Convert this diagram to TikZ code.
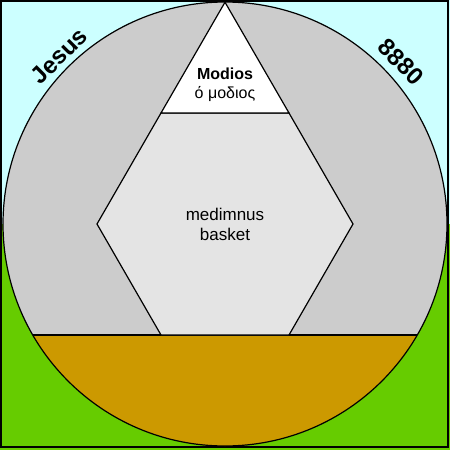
\documentclass[tikz,border=0pt]{standalone}
\usepackage{fontspec}
\setmainfont{Liberation Sans}
\definecolor{sky}{HTML}{CCFFFF}
\definecolor{grass}{HTML}{66CC00}
\definecolor{disk}{HTML}{CCCCCC}
\definecolor{soil}{HTML}{CC9900}
\definecolor{grain}{HTML}{E4E4E4}

\begin{document}
\begin{tikzpicture}[x=1pt,y=-1pt,line width=1.2pt,
    edge/.style={draw=black,line join=miter},
    rimtext/.style={font=\bfseries\fontsize{24}{26}\selectfont,inner sep=1pt}]
            \useasboundingbox (0,0) rectangle (450,450);
            \fill[sky] (0,0) rectangle (450,224);
            \fill[grass] (0,224) rectangle (450,450);
            \draw[line width=1.5pt] (1,1) rectangle (448,447);
            % the round vessel
            \fill[disk] (225,224) circle (222);
            \begin{scope}
                \clip (225,224) circle (222);
                \fill[soil] (0,335) rectangle (450,450);
            \end{scope}
            \draw[edge] (225,224) circle (222);
            \draw[edge] (32.7,335)--(417.3,335);
            % medimnus and modios
            \filldraw[edge,fill=grain] (161,113)--(289,113)--(353,224)--(289,335)--(161,335)--(97,224)--cycle;
            \filldraw[edge,fill=white] (225,2.2)--(289,113)--(161,113)--cycle;
            \node (modios) at (225,74) {\bfseries\fontsize{16}{18}\selectfont Modios};
            \node (greek) at (225,94) {\fontsize{16}{18}\selectfont ό μοδιος};
            \node (basket) at (225,224)[align=center,font=\fontsize{17}{20}\selectfont]{medimnus\\basket};
            \node (jesus) at (59,56)[rimtext,rotate=45]{Jesus};
            \node (number) at (401,62)[rimtext,rotate=-45]{8880};
        \end{tikzpicture}
\end{document}
